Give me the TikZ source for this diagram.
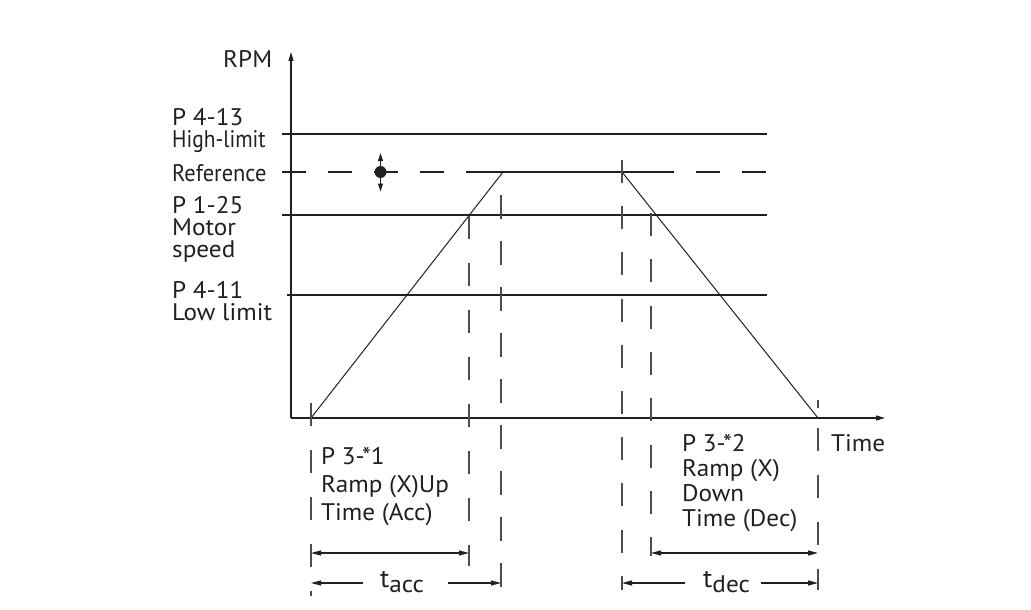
\documentclass[tikz,border=0pt]{standalone}
\usepackage{fontspec}
\setmainfont{PT Sans}[FakeStretch=1.05]
\usetikzlibrary{arrows.meta}
\definecolor{ink}{HTML}{231F20}
\begin{document}
\begin{tikzpicture}[x=1pt,y=-1pt,
  lbl/.style={anchor=base west, inner sep=0pt, text=ink, font=\fontsize{24}{24}\selectfont},
  axisline/.style={draw=ink, line width=1.1pt, -{Triangle[length=9pt,width=5pt]}},
  lim/.style={draw=ink, line width=1.1pt},
  refdash/.style={draw=ink, line width=1.1pt, dash pattern=on 24pt off 22pt},
  vdash/.style={draw=ink!80, line width=1.3pt},
  dimline/.style={draw=ink, line width=1.1pt},
  tip/.style={-{Triangle[length=10pt,width=5pt]}},
  sub/.style={anchor=base west, inner sep=0pt, text=ink, font=\fontsize{26}{26}\selectfont},
]
\useasboundingbox (0,0) rectangle (1031,610);
% axes
\coordinate (O) at (291,418);
\coordinate (ytip) at (291,52);
\coordinate (xtip) at (885,418);
\draw[axisline] (O) -- (ytip);
\draw[axisline] (O) -- (xtip);
% horizontal limit lines
\coordinate (hl1) at (282,134);  \coordinate (hl2) at (767,134);
\coordinate (rf1) at (282,172);  \coordinate (rf2) at (767,172);
\coordinate (ms1) at (282,215);  \coordinate (ms2) at (767,215);
\coordinate (ll1) at (287,295);  \coordinate (ll2) at (767,295);
\draw[lim] (hl1) -- (hl2);
\draw[refdash] (rf1) -- (rf2);
\draw[lim] (ms1) -- (ms2);
\draw[lim] (ll1) -- (ll2);
% ramp profile
\coordinate (r0) at (311,418);
\coordinate (r1) at (503,172);
\coordinate (r2) at (622,172);
\coordinate (r3) at (818,418);
\coordinate (rs) at (466,172);
\coordinate (re) at (673,172);
\draw[lim] (rs) -- (re);
\draw[lim, line width=1pt] (r0) -- (r1) -- (r2) -- (r3);
% reference marker
\coordinate (dot) at (380.5,172);
\coordinate (dotup) at (380.5,153);
\coordinate (dotdn) at (380.5,191.5);
\draw[ink, line width=1pt, -{Triangle[length=8pt,width=5pt]}] (dot) -- (dotup);
\draw[ink, line width=1pt, -{Triangle[length=8pt,width=5pt]}] (dot) -- (dotdn);
\fill[ink] (dot) circle (6);
% vertical dashed guides
\coordinate (va1) at (311,403);   \coordinate (va2) at (311,596);
\coordinate (vb1) at (469,216);   \coordinate (vb2) at (469,566);
\coordinate (vc1) at (501,195);   \coordinate (vc2) at (501,590);
\coordinate (vd1) at (622,160);   \coordinate (vd2) at (622,590);
\coordinate (ve1) at (651,213);   \coordinate (ve2) at (651,556);
\coordinate (vf0) at (818,400);   \coordinate (vf00) at (818,408);
\coordinate (vf1) at (818,428);   \coordinate (vf2) at (818,590);
\draw[vdash, dash pattern=on 23pt off 24pt] (va1) -- (va2);
\draw[vdash, dash pattern=on 23pt off 24pt] (vb1) -- (vb2);
\draw[vdash, dash pattern=on 23.5pt off 22.5pt] (vc1) -- (vc2);
\draw[vdash, dash pattern=on 23pt off 23.2pt] (vd1) -- (vd2);
\draw[vdash, dash pattern=on 23pt off 23.3pt] (ve1) -- (ve2);
\draw[vdash] (vf0) -- (vf00);
\draw[vdash, dash pattern=on 22.5pt off 24.5pt] (vf1) -- (vf2);
% dimension arrows
\coordinate (da1) at (311,553); \coordinate (da2) at (469,553);
\coordinate (db1) at (651,553); \coordinate (db2) at (818,553);
\draw[dimline, {Triangle[length=10pt,width=5pt]}-{Triangle[length=10pt,width=5pt]}] (da1) -- (da2);
\draw[dimline, {Triangle[length=10pt,width=5pt]}-{Triangle[length=10pt,width=5pt]}] (db1) -- (db2);
\coordinate (ta1) at (311,583); \coordinate (ta2) at (363,583);
\coordinate (ta3) at (448,583); \coordinate (ta4) at (501,583);
\coordinate (td1) at (622,583); \coordinate (td2) at (685,583);
\coordinate (td3) at (761,583); \coordinate (td4) at (818,583);
\draw[dimline, tip] (ta2) -- (ta1);
\draw[dimline, tip] (ta3) -- (ta4);
\draw[dimline, tip] (td2) -- (td1);
\draw[dimline, tip] (td3) -- (td4);
\node[sub] (tacc) at (380,587) {t\raisebox{-5pt}{\fontsize{24}{24}\selectfont acc}};
\node[sub] (tdec) at (703,587) {t\raisebox{-5pt}{\fontsize{24}{24}\selectfont dec}};
% labels
\node[lbl] (rpm) at (223,68) {RPM};
\node[lbl] (p413) at (172,125) {P 4-13};
\node[lbl] (hlim) at (172,147) {\scalebox{0.85}[1]{High-limit}};
\node[lbl] (ref) at (172,181) {\scalebox{0.89}[1]{Reference}};
\node[lbl] (p125) at (172,213) {P 1-25};
\node[lbl] (mot) at (172,235) {Motor};
\node[lbl] (spd) at (172,257) {speed};
\node[lbl] (p411) at (172,298.5) {P 4-11};
\node[lbl] (llim) at (172,320.5) {Low limit};
\node[lbl] (p31) at (321,464.5) {P 3-*1};
\node[lbl] (rup) at (321,492) {Ramp (X)Up};
\node[lbl] (tacctxt) at (321,520) {Time (Acc)};
\node[lbl] (p32) at (682,451.5) {P 3-*2};
\node[lbl] (rx) at (682,476.5) {Ramp (X)};
\node[lbl] (dwn) at (682,501.5) {Down};
\node[lbl] (tdectxt) at (682,526.5) {Time (Dec)};
\node[lbl] (time) at (831,451) {Time};
\end{tikzpicture}
\end{document}
